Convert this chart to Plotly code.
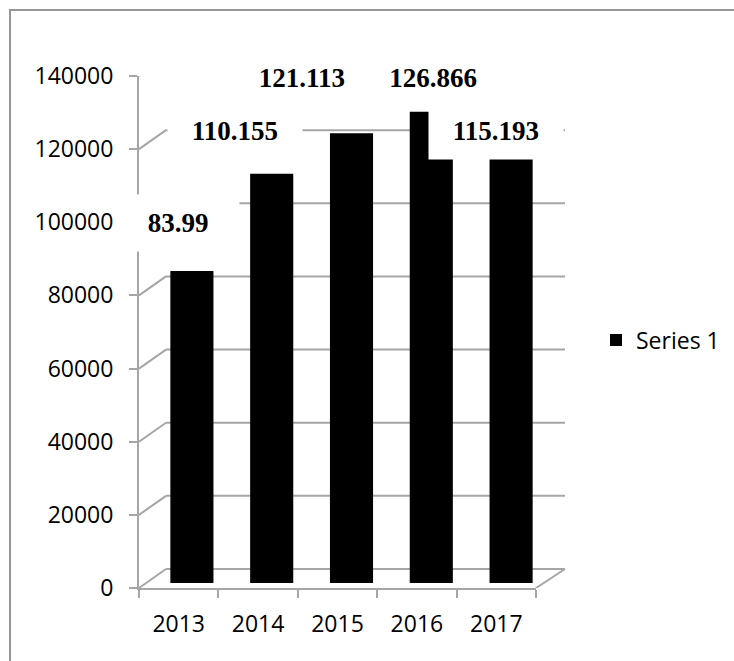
import plotly.graph_objects as go

# ---------------- data ----------------
years = ["2013", "2014", "2015", "2016", "2017"]
values = [83990, 110155, 121113, 126866, 115193]
value_labels = ["83.99", "110.155", "121.113", "126.866", "115.193"]
y_ticks = [0, 20000, 40000, 60000, 80000, 100000, 120000, 140000]
series_name = "Series 1"

# ---------------- geometry (pixels) ----------------
W, H = 734, 661


def fx(px):
    return px / W


def fy(py):
    return 1 - py / H


FRONT_L, FRONT_R = 139, 536          # front floor / category axis
FRONT_Y0, FRONT_YTOP = 588, 76       # front value axis (0 .. 140000)
DX, DY = 27, 19                      # depth offset of back wall
BACK_R = 565
BAR_L, BAR_R = 152, 551              # bar category band
BAR_Y0, BAR_YTOP = 583, 63           # bar value scale (0 .. 140000)

GRID = "#a6a6a6"
TICKFONT = dict(family="Open Sans", size=23, color="black")

fig = go.Figure()

fig.add_trace(go.Bar(
    x=years, y=values, name=series_name,
    marker=dict(color="black", line=dict(width=0)),
    xaxis="x2", yaxis="y2", showlegend=True,
    hoverinfo="x+y",
))

shapes = []
# back wall gridlines + side-wall diagonals
for v in y_ticks:
    shapes.append(dict(type="line", xref="paper", yref="y",
                       ysizemode="pixel", yanchor=v, y0=0, y1=DY,
                       x0=fx(FRONT_L), x1=fx(FRONT_L + DX),
                       line=dict(color=GRID, width=2), layer="below"))
    shapes.append(dict(type="line", xref="paper", yref="y",
                       ysizemode="pixel", yanchor=v, y0=DY, y1=DY,
                       x0=fx(FRONT_L + DX), x1=fx(BACK_R),
                       line=dict(color=GRID, width=2), layer="below"))
# floor right diagonal
shapes.append(dict(type="line", xref="paper", yref="y",
                   ysizemode="pixel", yanchor=0, y0=0, y1=DY,
                   x0=fx(FRONT_R), x1=fx(BACK_R),
                   line=dict(color=GRID, width=2), layer="below"))
# outer chart border
shapes.append(dict(type="rect", xref="paper", yref="paper",
                   x0=fx(10), x1=fx(760), y0=fy(700), y1=fy(10),
                   line=dict(color="#969696", width=2), layer="below"))

# data labels (manually placed boxes as in the original)
label_pos = [(178, 223.5), (234.5, 131), (301.5, 78), (433, 78), (496, 131)]
label_w = [122, 134, 134, 134, 134]
annotations = []
for txt, (lx, ly), w in zip(value_labels, label_pos, label_w):
    annotations.append(dict(
        text=txt, x=fx(lx), y=fy(ly), xref="paper", yref="paper",
        xanchor="center", yanchor="middle", showarrow=False,
        width=w, height=56, bgcolor="white", borderpad=0,
        font=dict(family="Liberation Serif", size=27, color="black",
                  weight="bold"),
    ))

fig.update_layout(
    template="none",
    width=W, height=H,
    margin=dict(l=0, r=0, t=0, b=0, pad=0, autoexpand=False),
    paper_bgcolor="white", plot_bgcolor="rgba(0,0,0,0)",
    bargap=0.46,
    xaxis=dict(domain=[fx(FRONT_L), fx(FRONT_R)], anchor="y",
               type="category", categoryorder="array", categoryarray=years,
               range=[-0.5, 4.5], automargin=False,
               showline=True, linecolor=GRID, linewidth=2,
               ticks="outside", ticklen=8, tickwidth=2, tickcolor=GRID,
               tickson="boundaries", showgrid=False, zeroline=False,
               tickfont=TICKFONT, ticklabelstandoff=14, fixedrange=True),
    yaxis=dict(domain=[fy(FRONT_Y0), fy(FRONT_YTOP)], anchor="x",
               range=[0, 140000], tickvals=y_ticks,
               ticktext=[str(t) for t in y_ticks], automargin=False,
               showline=True, linecolor=GRID, linewidth=2,
               ticks="outside", ticklen=8, tickwidth=2, tickcolor=GRID,
               showgrid=False, zeroline=False,
               tickfont=TICKFONT, ticklabelstandoff=11, fixedrange=True),
    xaxis2=dict(domain=[fx(BAR_L), fx(BAR_R)], anchor="y2",
                type="category", categoryorder="array", categoryarray=years,
                range=[-0.5, 4.5], visible=False, fixedrange=True,
                automargin=False),
    yaxis2=dict(domain=[fy(BAR_Y0), fy(BAR_YTOP)], anchor="x2",
                range=[0, 140000], visible=False, fixedrange=True,
                automargin=False),
    shapes=shapes,
    annotations=annotations,
    legend=dict(x=fx(596), y=fy(340), xanchor="left", yanchor="middle",
                font=TICKFONT, bgcolor="rgba(0,0,0,0)", borderwidth=0),
    showlegend=True,
)

fig.write_html("out.html")
